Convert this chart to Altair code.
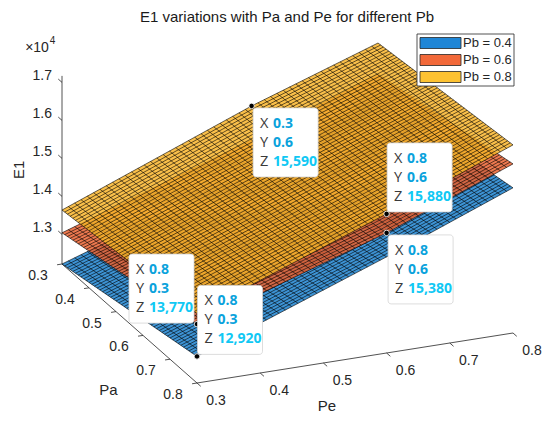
import numpy as np
import pandas as pd
import altair as alt

# ---------------- data ----------------
TITLE = "E1 variations with Pa and Pe for different Pb"
PB_LABELS = ["Pb = 0.4", "Pb = 0.6", "Pb = 0.8"]
PE_NODES = [0.3, 0.6, 0.8]          # Pe positions where E1 was read
PA_NODES = [0.3, 0.8]               # back edge (Pa=0.3) and front edge (Pa=0.8)
E1_PB04_BACK = [12220, 13880, 15340]
E1_PB04_FRONT = [12920, 14750, 16040]
E1_PB06_BACK = [13040, 14700, 15900]
E1_PB06_FRONT = [13770, 15380, 16670]
E1_PB08_BACK = [13640, 15590, 16720]
E1_PB08_FRONT = [14050, 15880, 17170]
TIP_X = [0.3, 0.8, 0.8, 0.8, 0.8]   # datatip X (Pa)
TIP_Y = [0.6, 0.6, 0.6, 0.3, 0.3]   # datatip Y (Pe)
TIP_Z = [15590, 15880, 15380, 13770, 12920]
PA_TICKS = [0.3, 0.4, 0.5, 0.6, 0.7, 0.8]
PE_TICKS = [0.3, 0.4, 0.5, 0.6, 0.7, 0.8]
E1_TICKS = [13000, 14000, 15000, 16000, 17000]
E1_EXPONENT = 4

# ---------------- style / camera ----------------
COLORS = ["#1f86d6", "#f2693a", "#fdc232"]          # legend patches
FACE_COLORS = ["#1b80cc", "#ea6230", "#f8b42a"]     # surface faces
AXIS_COLOR = "#262626"
FONT = "Liberation Sans"
TIP_FONT = "Open Sans"
W, H = 534, 405
OX, OY = 62.0, 264.0
PA_VEC = (270.0, 238.0)
PE_VEC = (632.0, -100.0)
Z_PX = 0.038
MESH_N = 51

SURFACES = [
    (PB_LABELS[0], E1_PB04_BACK, E1_PB04_FRONT, FACE_COLORS[0]),
    (PB_LABELS[1], E1_PB06_BACK, E1_PB06_FRONT, FACE_COLORS[1]),
    (PB_LABELS[2], E1_PB08_BACK, E1_PB08_FRONT, FACE_COLORS[2]),
]
ALL_E1 = E1_PB04_BACK + E1_PB04_FRONT + E1_PB06_BACK + E1_PB06_FRONT + E1_PB08_BACK + E1_PB08_FRONT
ZMIN, ZMAX = min(ALL_E1), max(ALL_E1)
PA0, PA1 = min(PA_TICKS), max(PA_TICKS)
PE0, PE1 = min(PE_TICKS), max(PE_TICKS)


def proj(pa, pe, e1):
    x = OX + (pa - PA0) * PA_VEC[0] + (pe - PE0) * PE_VEC[0]
    y = OY + (pa - PA0) * PA_VEC[1] + (pe - PE0) * PE_VEC[1] - (e1 - ZMIN) * Z_PX
    return x, y


def surf(back, front, pa, pe):
    b = np.interp(pe, PE_NODES, back)
    f = np.interp(pe, PE_NODES, front)
    t = (pa - PA_NODES[0]) / (PA_NODES[1] - PA_NODES[0])
    return b + t * (f - b)


xs = alt.Scale(domain=[8, 8 + W], nice=False, zero=False)
ys = alt.Scale(domain=[8, 8 + H], nice=False, zero=False, reverse=True)


def X(f="x"):
    return alt.X(f"{f}:Q", scale=xs, axis=None)


def Y(f="y"):
    return alt.Y(f"{f}:Q", scale=ys, axis=None)


def rules(rows, **mk):
    df = pd.DataFrame(rows, columns=["x", "y", "x2", "y2"])
    return alt.Chart(df).mark_rule(**mk).encode(x=X(), y=Y(), x2=alt.X2("x2"), y2=alt.Y2("y2"))


def texts(rows, **mk):
    df = pd.DataFrame(rows, columns=["x", "y", "t"])
    return alt.Chart(df).mark_text(**mk).encode(x=X(), y=Y(), text="t:N")


def unit(v, n=5.0):
    L = (v[0] ** 2 + v[1] ** 2) ** 0.5
    return (v[0] / L * n, v[1] / L * n)


layers = []

# ---------------- axes ----------------
o = proj(PA0, PE0, ZMIN)
ztop = proj(PA0, PE0, ZMAX)
pa_end = proj(PA1, PE0, ZMIN)
pe_end = proj(PA1, PE1, ZMIN)
layers.append(rules([
    (o[0], o[1], ztop[0], ztop[1]),
    (o[0], o[1], pa_end[0], pa_end[1]),
    (pa_end[0], pa_end[1], pe_end[0], pe_end[1]),
], color=AXIS_COLOR, strokeWidth=0.8))

tick_rows, lab_z, lab_pa, lab_pe = [], [], [], []
dz = unit((-PA_VEC[0], -PA_VEC[1]))
for v in E1_TICKS:
    p = proj(PA0, PE0, v)
    tick_rows.append((p[0], p[1], p[0] + dz[0], p[1] + dz[1]))
    lab_z.append((p[0] - 10, p[1] - 6.5, f"{v / 10 ** E1_EXPONENT:.1f}"))
dpa = unit((-PE_VEC[0], -PE_VEC[1]))
for v in PA_TICKS:
    p = proj(v, PE0, ZMIN)
    tick_rows.append((p[0], p[1], p[0] + dpa[0], p[1] + dpa[1]))
    lab_pa.append((p[0] - 24, p[1] + 12, f"{v:.1f}"))
dpe = unit(PA_VEC)
for v in PE_TICKS:
    p = proj(PA1, v, ZMIN)
    tick_rows.append((p[0], p[1], p[0] + dpe[0], p[1] + dpe[1]))
    lab_pe.append((p[0] + 19, p[1] + 18, f"{v:.1f}"))
layers.append(rules(tick_rows, color=AXIS_COLOR, strokeWidth=0.8))
layers.append(texts(lab_z, align="right", baseline="middle", font=FONT, fontSize=14, color=AXIS_COLOR))
layers.append(texts(lab_pa + lab_pe, align="center", baseline="middle", font=FONT, fontSize=14, color=AXIS_COLOR))

pa_mid = proj((PA0 + PA1) / 2, PE0, ZMIN)
pe_mid = proj(PA1, (PE0 + PE1) / 2, ZMIN)
layers.append(texts([(pa_mid[0] - 21, pa_mid[1] + 66, "Pa"), (pe_mid[0] - 28, pe_mid[1] + 48, "Pe")],
                    align="center", baseline="middle", font=FONT, fontSize=15, color=AXIS_COLOR))
layers.append(texts([(18.5, (o[1] + ztop[1]) / 2, "E1")], align="center", baseline="middle",
                    angle=270, font=FONT, fontSize=15, color=AXIS_COLOR))
layers.append(texts([(37, 47.5, "\u00d710")], align="center", baseline="middle", font=FONT,
                    fontSize=14, color=AXIS_COLOR))
layers.append(texts([(52.5, 40.5, str(E1_EXPONENT))], align="center", baseline="middle", font=FONT,
                    fontSize=10, color=AXIS_COLOR))

# ---------------- surfaces (bottom to top) ----------------
pe_mesh = np.linspace(PE0, PE1, MESH_N)
pa_mesh = np.linspace(PA0, PA1, MESH_N)
for label, back, front, col in SURFACES:
    outline = [(PA0, pe) for pe in PE_NODES] + [(PA1, pe) for pe in PE_NODES[::-1]]
    poly = []
    for i, (pa, pe) in enumerate(outline):
        x, y = proj(pa, pe, surf(back, front, pa, pe))
        poly.append({"x": x, "y": y, "i": i})
    layers.append(alt.Chart(pd.DataFrame(poly)).mark_line(
        filled=True, color=col, fillOpacity=0.85, strokeWidth=0
    ).encode(x=X(), y=Y(), order="i:Q"))
    mesh = []
    for pe in pe_mesh:
        a = proj(PA0, pe, surf(back, front, PA0, pe))
        b = proj(PA1, pe, surf(back, front, PA1, pe))
        mesh.append((a[0], a[1], b[0], b[1]))
    for pa in pa_mesh:
        for k in range(len(PE_NODES) - 1):
            a = proj(pa, PE_NODES[k], surf(back, front, pa, PE_NODES[k]))
            b = proj(pa, PE_NODES[k + 1], surf(back, front, pa, PE_NODES[k + 1]))
            mesh.append((a[0], a[1], b[0], b[1]))
    layers.append(rules(mesh, color="#000000", strokeWidth=0.6, opacity=1))

# ---------------- datatips ----------------
TIP_PLACE = ["dr", "ur", "dr", "ul", "ur"]
BW, BH = 65, 69
boxes, dots, lab_rows, xy_vals, z_vals = [], [], [], [], []
for px_, py_, pz, place in zip(TIP_X, TIP_Y, TIP_Z, TIP_PLACE):
    dx, dy = proj(px_, py_, pz)
    dots.append({"x": dx, "y": dy})
    if place == "dr":
        x0, y0 = dx + 1.5, dy + 2
    elif place == "ur":
        x0, y0 = dx + 0.5, dy - 2 - BH
    else:
        x0, y0 = dx - 3 - BW, dy - 1 - BH
    boxes.append({"x": x0, "y": y0, "x2": x0 + BW, "y2": y0 + BH})
    for j, (lt, val) in enumerate([("X", f"{px_:.1f}"), ("Y", f"{py_:.1f}"), ("Z", f"{pz:,}")]):
        lab_rows.append((x0 + 7, y0 + 16 + 19 * j, lt))
        (z_vals if lt == "Z" else xy_vals).append((x0 + 20, y0 + 16 + 19 * j, val))

dots_df = pd.DataFrame(dots)
layers.append(alt.Chart(dots_df).mark_circle(size=30, color="#000000", opacity=1, stroke="#ffffff",
                                              strokeWidth=0.8).encode(x=X(), y=Y()))
boxes_df = pd.DataFrame(boxes)
layers.append(alt.Chart(boxes_df).mark_rect(fill="#000000", opacity=0.06, cornerRadius=4, xOffset=1.5,
                                             yOffset=1.5).encode(x=X(), y=Y(), x2=alt.X2("x2"), y2=alt.Y2("y2")))
layers.append(alt.Chart(boxes_df).mark_rect(fill="#ffffff", stroke="#d4d4d4", strokeWidth=0.8,
                                             cornerRadius=3).encode(x=X(), y=Y(), x2=alt.X2("x2"), y2=alt.Y2("y2")))
layers.append(texts(lab_rows, align="left", baseline="middle", font=TIP_FONT, fontSize=14.5, color="#3a3a3a"))
layers.append(texts(xy_vals, align="left", baseline="middle", font=TIP_FONT, fontSize=14, fontWeight="bold",
                    color="#0aa2dc"))
layers.append(texts(z_vals, align="left", baseline="middle", font=TIP_FONT, fontSize=14, fontWeight="bold",
                    color="#10c8f4"))

# ---------------- legend ----------------
LX0, LY0, LX1, LY1 = 417, 34, 514, 86
layers.append(alt.Chart(pd.DataFrame([{"x": LX0, "y": LY0, "x2": LX1, "y2": LY1}])).mark_rect(
    fill="#ffffff", stroke=AXIS_COLOR, strokeWidth=0.8).encode(x=X(), y=Y(), x2=alt.X2("x2"), y2=alt.Y2("y2")))
leg = pd.DataFrame({
    "label": PB_LABELS,
    "x": [LX0 + 3] * 3, "x2": [LX0 + 44] * 3,
    "y": [LY0 + 3.5 + 17 * i for i in range(3)], "y2": [LY0 + 14.5 + 17 * i for i in range(3)],
    "tx": [LX0 + 46] * 3, "ty": [LY0 + 9 + 17 * i for i in range(3)],
})
layers.append(alt.Chart(leg).mark_rect(stroke=AXIS_COLOR, strokeWidth=0.8).encode(
    x=X(), y=Y(), x2=alt.X2("x2"), y2=alt.Y2("y2"),
    fill=alt.Fill("label:N", scale=alt.Scale(domain=PB_LABELS, range=COLORS), legend=None)))
layers.append(alt.Chart(leg).mark_text(align="left", baseline="middle", font=FONT, fontSize=13,
                                        color=AXIS_COLOR).encode(x=X("tx"), y=Y("ty"), text="label:N"))

# ---------------- title ----------------
layers.append(texts([(287, 17, TITLE)], align="center", baseline="middle", font=FONT, fontSize=15,
                    color="#1a1a1a"))

chart = alt.layer(*layers).properties(width=W, height=H, padding=0, autosize="none",
                                      background="#ffffff").configure_view(stroke=None)
chart.save("out.html", embed_options={"renderer": "svg", "actions": False})
